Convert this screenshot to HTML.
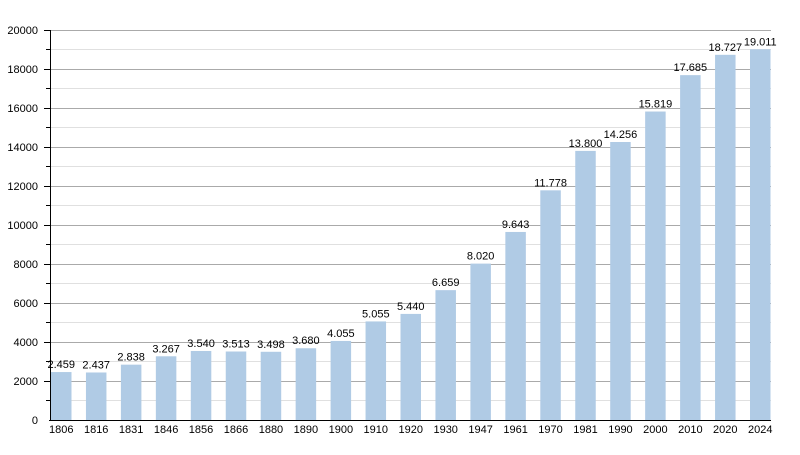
<!DOCTYPE html><html><head><style>body{margin:0;background:#fff}</style></head><body>
<svg width="800" height="450" xmlns="http://www.w3.org/2000/svg" font-family="Liberation Sans, sans-serif" font-size="11">
<g stroke="#e0e0e0">
<line x1="50" x2="771" y1="400.5" y2="400.5"/><line x1="50" x2="771" y1="361.5" y2="361.5"/><line x1="50" x2="771" y1="322.5" y2="322.5"/><line x1="50" x2="771" y1="283.5" y2="283.5"/><line x1="50" x2="771" y1="244.5" y2="244.5"/><line x1="50" x2="771" y1="205.5" y2="205.5"/><line x1="50" x2="771" y1="166.5" y2="166.5"/><line x1="50" x2="771" y1="127.5" y2="127.5"/><line x1="50" x2="771" y1="88.5" y2="88.5"/><line x1="50" x2="771" y1="49.5" y2="49.5"/>
</g>
<g stroke="#aaa">
<line x1="50" x2="771" y1="381.5" y2="381.5"/><line x1="50" x2="771" y1="342.5" y2="342.5"/><line x1="50" x2="771" y1="303.5" y2="303.5"/><line x1="50" x2="771" y1="264.5" y2="264.5"/><line x1="50" x2="771" y1="225.5" y2="225.5"/><line x1="50" x2="771" y1="186.5" y2="186.5"/><line x1="50" x2="771" y1="147.5" y2="147.5"/><line x1="50" x2="771" y1="108.5" y2="108.5"/><line x1="50" x2="771" y1="69.5" y2="69.5"/><line x1="50" x2="771" y1="30.5" y2="30.5"/>
</g>
<g stroke="#000">
<line x1="46" x2="50" y1="400.5" y2="400.5"/><line x1="46" x2="50" y1="361.5" y2="361.5"/><line x1="46" x2="50" y1="322.5" y2="322.5"/><line x1="46" x2="50" y1="283.5" y2="283.5"/><line x1="46" x2="50" y1="244.5" y2="244.5"/><line x1="46" x2="50" y1="205.5" y2="205.5"/><line x1="46" x2="50" y1="166.5" y2="166.5"/><line x1="46" x2="50" y1="127.5" y2="127.5"/><line x1="46" x2="50" y1="88.5" y2="88.5"/><line x1="46" x2="50" y1="49.5" y2="49.5"/>
<line x1="44" x2="50" y1="381.5" y2="381.5"/><line x1="44" x2="50" y1="342.5" y2="342.5"/><line x1="44" x2="50" y1="303.5" y2="303.5"/><line x1="44" x2="50" y1="264.5" y2="264.5"/><line x1="44" x2="50" y1="225.5" y2="225.5"/><line x1="44" x2="50" y1="186.5" y2="186.5"/><line x1="44" x2="50" y1="147.5" y2="147.5"/><line x1="44" x2="50" y1="108.5" y2="108.5"/><line x1="44" x2="50" y1="69.5" y2="69.5"/><line x1="44" x2="50" y1="30.5" y2="30.5"/>
</g>
<g text-anchor="end">
<text x="38" y="424">0</text><text x="38" y="385">2000</text><text x="38" y="346">4000</text><text x="38" y="307">6000</text><text x="38" y="268">8000</text><text x="38" y="229">10000</text><text x="38" y="190">12000</text><text x="38" y="151">14000</text><text x="38" y="112">16000</text><text x="38" y="73">18000</text><text x="38" y="34">20000</text>
</g>
<g fill="#b0cbe5">
<rect x="51" y="372.05" width="20.5" height="47.95"/>
<rect x="85.95" y="372.48" width="20.5" height="47.52"/>
<rect x="120.9" y="364.66" width="20.5" height="55.34"/>
<rect x="155.85" y="356.29" width="20.5" height="63.71"/>
<rect x="190.8" y="350.97" width="20.5" height="69.03"/>
<rect x="225.75" y="351.5" width="20.5" height="68.5"/>
<rect x="260.7" y="351.79" width="20.5" height="68.21"/>
<rect x="295.65" y="348.24" width="20.5" height="71.76"/>
<rect x="330.6" y="340.93" width="20.5" height="79.07"/>
<rect x="365.55" y="321.43" width="20.5" height="98.57"/>
<rect x="400.5" y="313.92" width="20.5" height="106.08"/>
<rect x="435.45" y="290.15" width="20.5" height="129.85"/>
<rect x="470.4" y="263.61" width="20.5" height="156.39"/>
<rect x="505.35" y="231.96" width="20.5" height="188.04"/>
<rect x="540.3" y="190.33" width="20.5" height="229.67"/>
<rect x="575.25" y="150.9" width="20.5" height="269.1"/>
<rect x="610.2" y="142" width="20.5" height="278"/>
<rect x="645.15" y="111.53" width="20.5" height="308.47"/>
<rect x="680.1" y="75.14" width="20.5" height="344.86"/>
<rect x="715.05" y="54.82" width="20.5" height="365.18"/>
<rect x="750" y="49.29" width="20.5" height="370.71"/>
</g>
<g text-anchor="middle">
<text x="61.25" y="368">2.459</text><text x="96.2" y="368.5">2.437</text><text x="131.15" y="360.7">2.838</text><text x="166.1" y="352.3">3.267</text><text x="201.05" y="347">3.540</text><text x="236" y="347.5">3.513</text><text x="270.95" y="347.8">3.498</text><text x="305.9" y="344.2">3.680</text><text x="340.85" y="336.9">4.055</text><text x="375.8" y="317.4">5.055</text><text x="410.75" y="309.9">5.440</text><text x="445.7" y="286.2">6.659</text><text x="480.65" y="259.6">8.020</text><text x="515.6" y="228">9.643</text><text x="550.55" y="186.3">11.778</text><text x="585.5" y="146.9">13.800</text><text x="620.45" y="138">14.256</text><text x="655.4" y="107.5">15.819</text><text x="690.35" y="71.1">17.685</text><text x="725.3" y="50.8">18.727</text><text x="760.25" y="45.3">19.011</text>
<text x="61.25" y="433">1806</text><text x="96.2" y="433">1816</text><text x="131.15" y="433">1831</text><text x="166.1" y="433">1846</text><text x="201.05" y="433">1856</text><text x="236" y="433">1866</text><text x="270.95" y="433">1880</text><text x="305.9" y="433">1890</text><text x="340.85" y="433">1900</text><text x="375.8" y="433">1910</text><text x="410.75" y="433">1920</text><text x="445.7" y="433">1930</text><text x="480.65" y="433">1947</text><text x="515.6" y="433">1961</text><text x="550.55" y="433">1970</text><text x="585.5" y="433">1981</text><text x="620.45" y="433">1990</text><text x="655.4" y="433">2000</text><text x="690.35" y="433">2010</text><text x="725.3" y="433">2020</text><text x="760.25" y="433">2024</text>
</g>
<line x1="50.5" x2="50.5" y1="30" y2="421" stroke="#000"/>
<line x1="49" x2="771" y1="420.5" y2="420.5" stroke="#000"/>
</svg></body></html>
